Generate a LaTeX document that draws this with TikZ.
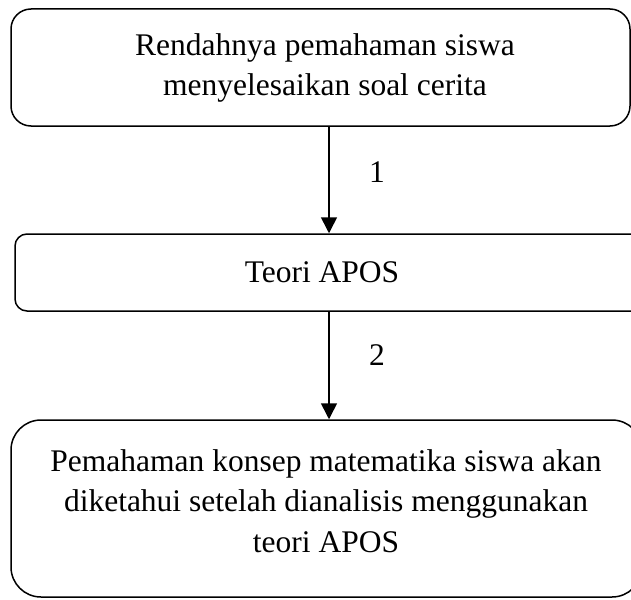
\documentclass[tikz,border=0pt]{standalone}
\usepackage{fontspec}
\setmainfont{Liberation Serif}
\usetikzlibrary{arrows.meta}
\begin{document}
\begin{tikzpicture}[x=1pt,y=-1pt,
  box/.style={draw=black,line width=1.5pt,fill=none,inner sep=0pt},
  txt/.style={align=center,font=\fontsize{31.5}{40.5}\selectfont,inner sep=0pt},
  arr/.style={line width=1.6pt,-{Triangle[width=16pt,length=16pt]}},
  num/.style={font=\fontsize{31.5}{38}\selectfont,inner sep=0pt}]
\useasboundingbox (0,0) rectangle (631,599);
\clip (0,0) rectangle (631,599);
\node[box,rounded corners=20pt,minimum width=619pt,minimum height=117pt] (b1) at (320.5,67.5) {};
\node[box,rounded corners=12pt,minimum width=630pt,minimum height=77pt] (b2) at (330,272.5) {};
\node[box,rounded corners=30pt,minimum width=631pt,minimum height=177pt] (b3) at (326.5,508.5) {};
\node[txt] (t1) at (325,68) {Rendahnya pemahaman siswa\\menyelesaikan soal cerita};
\node[txt] (t2) at (322,272) {Teori APOS};
\node[txt] (t3) at (326,501) {Pemahaman konsep matematika siswa akan\\diketahui setelah dianalisis menggunakan\\teori APOS};
\coordinate (ax) at (329,0);
\draw[arr] (ax |- b1.south) -- (ax |- b2.north);
\draw[arr] (ax |- b2.south) -- (ax |- b3.north);
\node[num] (n1) at (377,172) {1};
\node[num] (n2) at (377,355) {2};
\end{tikzpicture}
\end{document}
